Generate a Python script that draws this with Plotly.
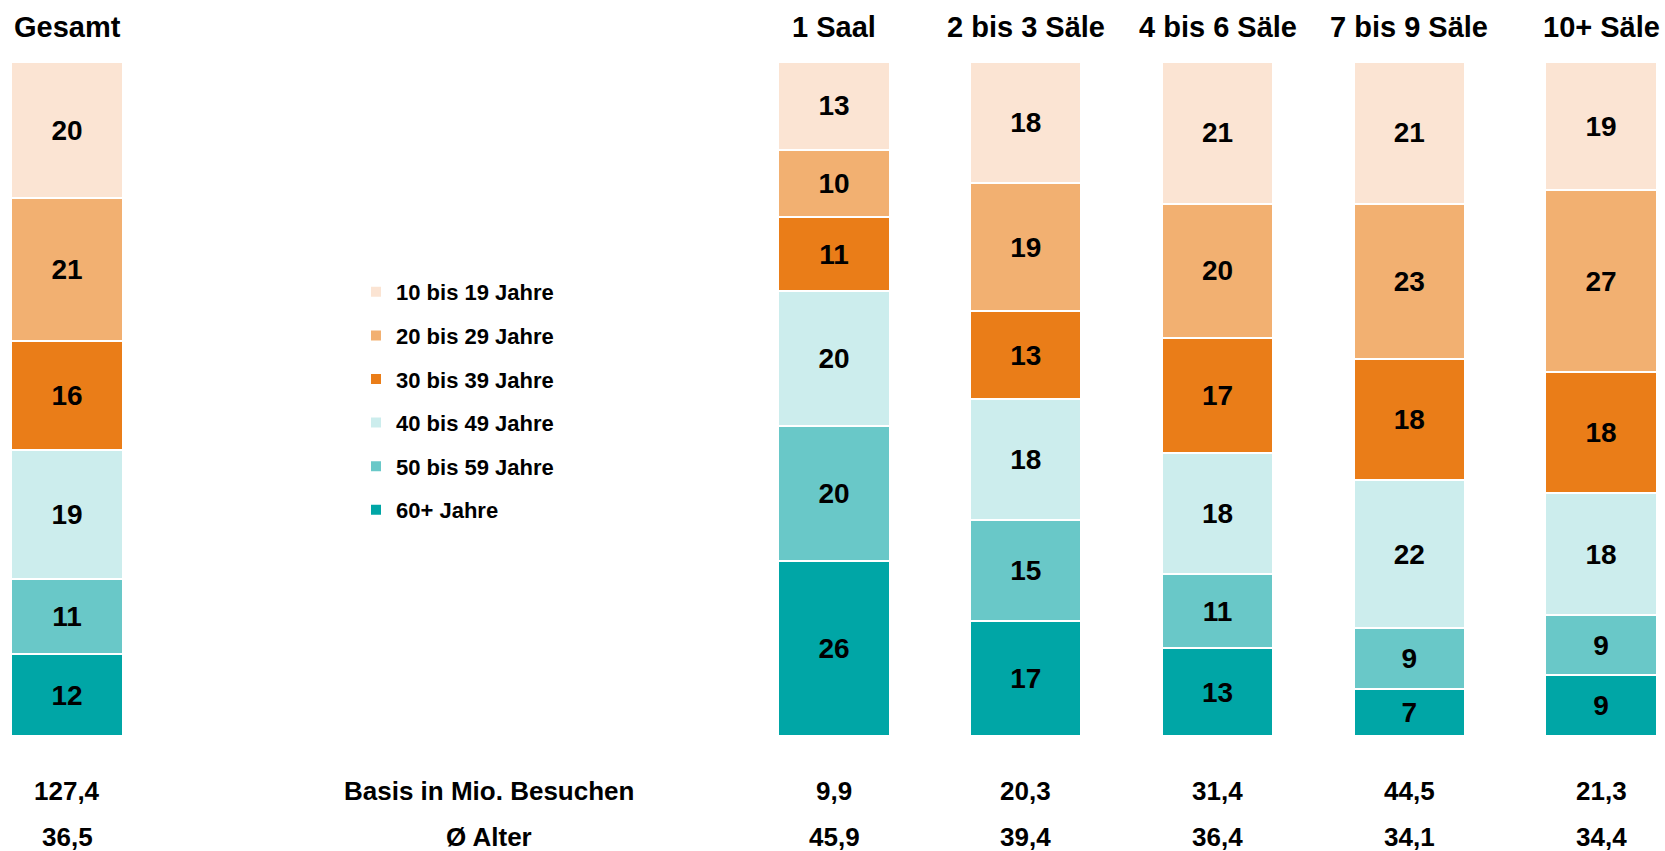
import plotly.graph_objects as go

# ---------------- data ----------------
categories = ["Gesamt", "1 Saal", "2 bis 3 Säle", "4 bis 6 Säle", "7 bis 9 Säle", "10+ Säle"]
age_groups = ["60+ Jahre", "50 bis 59 Jahre", "40 bis 49 Jahre",
              "30 bis 39 Jahre", "20 bis 29 Jahre", "10 bis 19 Jahre"]
v_60plus = [12, 26, 17, 13, 7, 9]
v_50_59 = [11, 20, 15, 11, 9, 9]
v_40_49 = [19, 20, 18, 18, 22, 18]
v_30_39 = [16, 11, 13, 17, 18, 18]
v_20_29 = [21, 10, 19, 20, 23, 27]
v_10_19 = [20, 13, 18, 21, 21, 19]
basis_label = "Basis in Mio. Besuchen"
basis = ["127,4", "9,9", "20,3", "31,4", "44,5", "21,3"]
alter_label = "Ø Alter"
alter = ["36,5", "45,9", "39,4", "36,4", "34,1", "34,4"]

series = [v_60plus, v_50_59, v_40_49, v_30_39, v_20_29, v_10_19]

# ---------------- style / layout ----------------
colors = ["#00A6A6", "#69C8C8", "#CCEDED", "#EA7D18", "#F2B071", "#FBE4D3"]
slots = [0, 4, 5, 6, 7, 8]          # horizontal slot of each bar
FONT = "Liberation Sans, Arial, sans-serif"
W, H = 1665, 851
TOP, BOTTOM = 62, 736

fig = go.Figure()
n = len(age_groups)
for i, (name, vals, col) in enumerate(zip(age_groups, series, colors)):
    fig.add_trace(go.Bar(
        x=slots, y=vals, name=name, legendgroup=name, legendrank=n - i,
        marker=dict(color=col, line=dict(color="white", width=2)),
        width=0.58,
        text=[str(v) for v in vals], textposition="inside",
        insidetextanchor="middle", textangle=0,
        textfont=dict(family=FONT, size=28, color="black", weight="bold"),
        hoverinfo="skip",
    ))

def py(p):
    return (BOTTOM - p) / (BOTTOM - TOP)

ann = []
for s, c, b, a in zip(slots, categories, basis, alter):
    ann.append(dict(x=s, y=py(27), xref="x", yref="paper", text=c, showarrow=False,
                    font=dict(family=FONT, size=29, color="black", weight="bold"),
                    xanchor="center", yanchor="middle"))
    ann.append(dict(x=s, y=py(791), xref="x", yref="paper", text=b, showarrow=False,
                    font=dict(family=FONT, size=26, color="black", weight="bold"),
                    xanchor="center", yanchor="middle"))
    ann.append(dict(x=s, y=py(837), xref="x", yref="paper", text=a, showarrow=False,
                    font=dict(family=FONT, size=26, color="black", weight="bold"),
                    xanchor="center", yanchor="middle"))
for lab, yy in [(basis_label, 791), (alter_label, 837)]:
    ann.append(dict(x=489 / W, y=py(yy), xref="paper", yref="paper", text=lab, showarrow=False,
                    font=dict(family=FONT, size=26, color="black", weight="bold"),
                    xanchor="center", yanchor="middle"))

unit = 191.75
fig.update_layout(
    width=W, height=H,
    margin=dict(l=0, r=0, t=TOP, b=H - BOTTOM, pad=0),
    barmode="stack", barnorm="percent",
    paper_bgcolor="white", plot_bgcolor="white",
    xaxis=dict(range=[-67 / unit, (W - 67) / unit], visible=False),
    yaxis=dict(range=[0, 100], visible=False),
    showlegend=True,
    legend=dict(x=356 / W, y=py(271), xanchor="left", yanchor="top",
                traceorder="grouped", tracegroupgap=12,
                font=dict(family=FONT, size=22, color="black", weight="bold"),
                bgcolor="rgba(0,0,0,0)"),
    annotations=ann,
)

fig.write_html("out.html", config={"displayModeBar": False},
               post_script="document.body.style.margin='0';")
